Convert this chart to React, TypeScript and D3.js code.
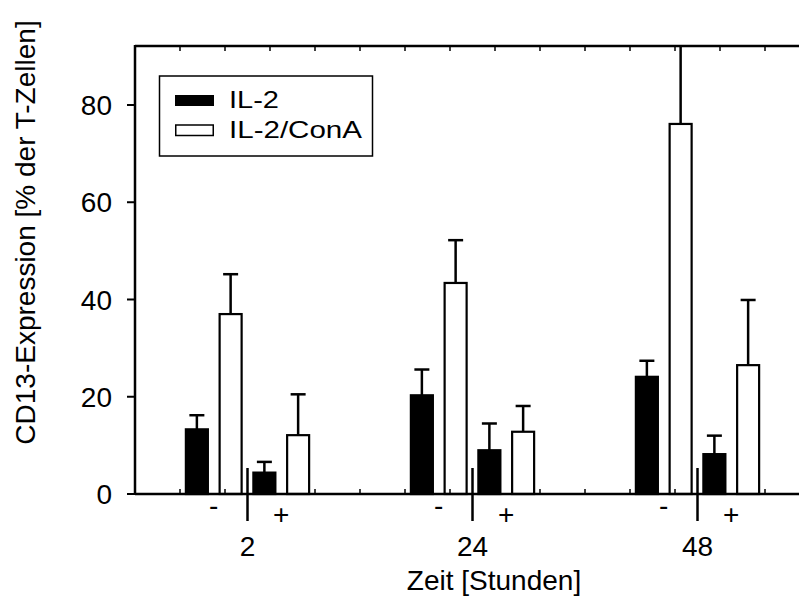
import React from "react";
import * as d3 from "d3";

// Time points (hours) and the two treatment conditions per time point
const timePoints = ["2", "24", "48"];
const conditions = ["-", "+"];
const seriesNames = ["IL-2", "IL-2/ConA"];

// Mean CD13 expression [% of T cells], indexed [timePoint][condition]
const il2Means = [
  [13.3, 4.4],
  [20.3, 9.0],
  [24.1, 8.2],
];
const il2ConAMeans = [
  [37.0, 12.1],
  [43.4, 12.8],
  [76.1, 26.5],
];
// Upper end of each error bar (mean + SD)
const il2Upper = [
  [16.2, 6.6],
  [25.6, 14.5],
  [27.4, 12.0],
];
const il2ConAUpper = [
  [45.2, 20.5],
  [52.2, 18.1],
  [98.0, 39.9],
];

const yTicks = [0, 20, 40, 60, 80];

const W = 799;
const H = 596;
const FONT = "'Liberation Sans', Arial, Helvetica, sans-serif";

export default function App() {
  const left = 135;
  const right = 799;
  const top = 46;
  const bottom = 494;

  // x in group units: group i sits at i
  const x = d3.scaleLinear().domain([-0.5, 2.4511]).range([left, right]);
  const y = d3.scaleLinear().domain([0, 92.13]).range([bottom, top]);

  const pxPerUnit = x(1) - x(0);
  const barStep = 0.15; // distance between neighbouring bars (group units)
  const barW = 22 / pxPerUnit;
  const capHalf = 7.5;

  type Bar = { cx: number; value: number; upper: number; filled: boolean };
  const bars: Bar[] = [];
  timePoints.forEach((_, i) => {
    conditions.forEach((_, c) => {
      const base = i + (c === 0 ? -1.5 : 0.5) * barStep;
      bars.push({ cx: base, value: il2Means[i][c], upper: il2Upper[i][c], filled: true });
      bars.push({ cx: base + barStep, value: il2ConAMeans[i][c], upper: il2ConAUpper[i][c], filled: false });
    });
  });

  const minorTicks = d3.range(-0.3, 2.45, 0.2).filter(
    (t) => Math.abs(t - Math.round(t)) > 0.05
  );

  return (
    <svg
      width={W}
      height={H}
      style={{ position: "absolute", left: 0, top: 0, background: "#fff" }}
      fontFamily={FONT}
    >
      <defs>
        <clipPath id="plotClip">
          <rect x={left} y={top} width={right - left} height={bottom - top + 2} />
        </clipPath>
      </defs>
      <rect width={W} height={H} fill="#fff" />

      {/* bars and error bars */}
      <g clipPath="url(#plotClip)">
        {bars.map((b, k) => {
          const cx = x(b.cx);
          const w = barW * pxPerUnit;
          return (
            <g key={k}>
              <line
                x1={cx}
                x2={cx}
                y1={y(b.value)}
                y2={y(b.upper)}
                stroke="#000"
                strokeWidth={2.5}
              />
              <line
                x1={cx - capHalf}
                x2={cx + capHalf}
                y1={y(b.upper)}
                y2={y(b.upper)}
                stroke="#000"
                strokeWidth={2.5}
              />
              <rect
                x={cx - w / 2}
                y={y(b.value)}
                width={w}
                height={y(0) - y(b.value)}
                fill={b.filled ? "#000" : "#fff"}
                stroke="#000"
                strokeWidth={2.2}
              />
            </g>
          );
        })}
      </g>

      {/* frame */}
      <line x1={left} x2={left} y1={top - 1} y2={bottom + 1} stroke="#000" strokeWidth={2.5} />
      <line x1={left} x2={right} y1={top} y2={top} stroke="#000" strokeWidth={2.5} />
      <line x1={left} x2={right} y1={bottom} y2={bottom} stroke="#000" strokeWidth={2.5} />

      {/* minor ticks on top and bottom */}
      {minorTicks.map((t, k) => (
        <g key={k}>
          <line x1={x(t)} x2={x(t)} y1={top} y2={top + 5} stroke="#000" strokeWidth={1.5} />
          <line x1={x(t)} x2={x(t)} y1={bottom} y2={bottom - 5} stroke="#000" strokeWidth={1.5} />
        </g>
      ))}

      {/* y axis ticks and labels */}
      {yTicks.map((t) => (
        <g key={t}>
          <line x1={left - 8} x2={left} y1={y(t)} y2={y(t)} stroke="#000" strokeWidth={2} />
          <text
            x={112}
            y={y(t)}
            dy="0.36em"
            textAnchor="end"
            fontSize={28}
            fill="#000"
          >
            {t}
          </text>
        </g>
      ))}

      {/* group ticks, condition signs and time labels */}
      {timePoints.map((tp, i) => (
        <g key={tp}>
          <line x1={x(i)} x2={x(i)} y1={468} y2={521} stroke="#000" strokeWidth={2.5} />
          <text x={x(i - barStep)} y={515} textAnchor="middle" fontSize={28} fill="#000">
            {conditions[0]}
          </text>
          <text x={x(i + barStep)} y={524} textAnchor="middle" fontSize={28} fill="#000">
            {conditions[1]}
          </text>
          <text x={x(i)} y={556} textAnchor="middle" fontSize={28} fill="#000">
            {tp}
          </text>
        </g>
      ))}

      {/* axis titles */}
      <text x={494} y={590} textAnchor="middle" fontSize={28} fill="#000">
        Zeit [Stunden]
      </text>
      <text
        transform="translate(35,232.5) rotate(-90)"
        textAnchor="middle"
        fontSize={28}
        fill="#000"
      >
        CD13-Expression [% der T-Zellen]
      </text>

      {/* legend */}
      <g>
        <rect x={159.5} y={76} width={213} height={80} fill="#fff" stroke="#000" strokeWidth={1.5} />
        <rect x={175} y={95} width={39} height={11} fill="#000" />
        <rect x={175.75} y={125} width={37.5} height={10.5} fill="#fff" stroke="#000" strokeWidth={1.5} />
        <text
          x={229}
          y={107.7}
          fontSize={24}
          fill="#000"
          textLength={50}
          lengthAdjust="spacingAndGlyphs"
        >
          {seriesNames[0]}
        </text>
        <text
          x={229}
          y={138}
          fontSize={24}
          fill="#000"
          textLength={133}
          lengthAdjust="spacingAndGlyphs"
        >
          {seriesNames[1]}
        </text>
      </g>
    </svg>
  );
}
